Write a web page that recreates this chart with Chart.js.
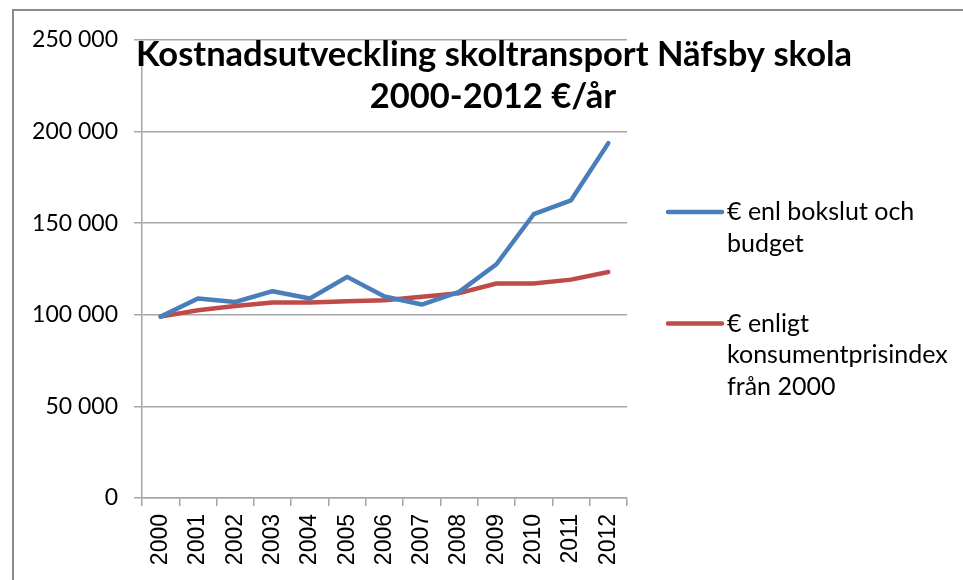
<!DOCTYPE html>
<html>
<head>
<meta charset="utf-8">
<script src="https://cdn.jsdelivr.net/npm/chart.js@4"></script>
<style>
  html, body { margin: 0; padding: 0; background: #fff; }
  canvas { display: block; }
</style>
</head>
<body>
<canvas id="chart" width="963" height="580"></canvas>
<script>
// ── Kostnadsutveckling skoltransport – data ──
const years = ['2000','2001','2002','2003','2004','2005','2006','2007','2008','2009','2010','2011','2012'];
const bokslut = [99000,108900,107000,112900,108900,120700,110000,105600,112500,127600,154900,162500,193700];
const kpi = [99000,102500,104800,106700,106700,107400,108000,109800,111800,117100,117100,119200,123400];
const seriesNames = [['€ enl bokslut och','budget'], ['€ enligt','konsumentprisindex','från 2000']];
const seriesColors = ['#4a7ebb','#be4b48'];
const titleLines = ['Kostnadsutveckling skoltransport Näfsby skola', '2000-2012 €/år'];
const yMax = 250000, yStep = 50000;

const gridCol = '#a6a6a6';
const fmt = v => String(v).replace(/\B(?=(\d{3})+(?!\d))/g, ' ');

// frame + white bg
const framePlugin = {
  id: 'frame',
  beforeDraw(chart) {
    const c = chart.ctx;
    c.save();
    c.fillStyle = '#fff'; c.fillRect(0, 0, chart.width, chart.height);
    c.strokeStyle = '#8c8c8c'; c.lineWidth = 2;
    c.strokeRect(13, 10, 2000, 2000);
    c.restore();
  }
};

// title drawn over the plot like the original
const titlePlugin = {
  id: 'overTitle',
  afterDraw(chart) {
    const c = chart.ctx;
    c.save();
    c.fillStyle = '#000';
    c.font = 'bold 34.5px Lato';
    c.textAlign = 'center';
    c.textBaseline = 'alphabetic';
    c.fillText(titleLines[0], 494, 66);
    c.fillText(titleLines[1], 493, 108);
    c.restore();
  }
};

// legend with wrapped lines
const legendPlugin = {
  id: 'sideLegend',
  afterDraw(chart) {
    const c = chart.ctx;
    c.save();
    c.font = '25px Lato';
    c.textBaseline = 'middle';
    c.fillStyle = '#000';
    let y = 212;
    chart.data.datasets.forEach((ds, i) => {
      c.strokeStyle = ds.borderColor; c.lineWidth = 4.5; c.lineCap = 'round';
      c.beginPath(); c.moveTo(668, y); c.lineTo(722, y); c.stroke();
      seriesNames[i].forEach((t, k) => c.fillText(t, 727, y + k * 31.5));
      y += (seriesNames[i].length - 1) * 31.5 + 80;
    });
    c.restore();
  }
};

new Chart(document.getElementById('chart').getContext('2d'), {
  type: 'line',
  data: {
    labels: years,
    datasets: [
      { label: seriesNames[0].join(' '), data: bokslut, borderColor: seriesColors[0], backgroundColor: seriesColors[0], borderWidth: 4.5, pointRadius: 0, tension: 0, borderJoinStyle: 'round', borderCapStyle: 'round' },
      { label: seriesNames[1].join(' '), data: kpi, borderColor: seriesColors[1], backgroundColor: seriesColors[1], borderWidth: 4.5, pointRadius: 0, tension: 0, borderJoinStyle: 'round', borderCapStyle: 'round' }
    ]
  },
  options: {
    responsive: false,
    animation: false,
    layout: { padding: { top: 40, right: 336, bottom: 0, left: 0 } },
    plugins: { legend: { display: false }, title: { display: false }, tooltip: { enabled: false } },
    scales: {
      x: {
        offset: true,
        grid: { offset: true, drawOnChartArea: false, drawTicks: true, tickLength: 8, color: gridCol, lineWidth: 1.5 },
        border: { color: gridCol, width: 1.5 },
        ticks: { minRotation: 90, maxRotation: 90, padding: 8, color: '#000', font: { family: 'Liberation Sans', size: 23 } },
        afterFit: s => { s.height = 82; }
      },
      y: {
        min: 0, max: yMax,
        grid: { color: gridCol, lineWidth: 1.5, tickLength: 8 },
        border: { color: gridCol, width: 1.5 },
        ticks: { stepSize: yStep, padding: 16, color: '#000', font: { family: 'Lato', size: 23 }, callback: v => fmt(v) },
        afterFit: s => { s.width = 142; }
      }
    }
  },
  plugins: [framePlugin, titlePlugin, legendPlugin]
});
</script>
</body>
</html>
